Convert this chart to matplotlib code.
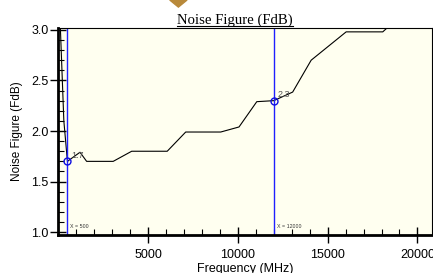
import matplotlib
matplotlib.use("Agg")
import matplotlib.pyplot as plt
from matplotlib.ticker import MultipleLocator

# data
freq = [100, 300, 500, 1200, 1570, 3050, 4080, 6060, 7090, 9040,
        10060, 11050, 12000, 13050, 14080, 16030, 18070, 18500]
nf = [3.05, 2.10, 1.70, 1.79, 1.70, 1.70, 1.80, 1.80, 1.99, 1.99,
      2.04, 2.29, 2.30, 2.385, 2.70, 2.98, 2.98, 3.05]
markers_x = [500, 12000]
markers_y = [1.7, 2.3]
marker_labels = ["1.7", "2.3"]
cursor_labels = ["X = 500", "X = 12000"]

fig = plt.figure(figsize=(4.33, 2.73), dpi=100)
ax = fig.add_axes([0.135, 0.141, 0.863, 0.756])
ax.set_facecolor("#fffff0")

ax.plot(freq, nf, color="black", linewidth=0.8)

for xm, ym, lab, clab in zip(markers_x, markers_y, marker_labels, cursor_labels):
    ax.axvline(xm, color="#2020ff", linewidth=1.0)
    ax.plot(xm, ym, "o", mfc="none", mec="#1010e0", ms=5, mew=1.0)
    ax.annotate(lab, (xm, ym), xytext=(2.5, 2.5), textcoords="offset points",
                fontsize=6.5, color="#555555", family="Liberation Sans")
    ax.annotate(clab, (xm, 1.0), xytext=(2, 3), textcoords="offset points",
                fontsize=3.8, color="#333333", family="Liberation Sans")

ax.set_xlim(0, 20820)
ax.set_ylim(0.977, 3.017)
ax.xaxis.set_minor_locator(MultipleLocator(1000))
ax.yaxis.set_minor_locator(MultipleLocator(0.1))
ax.set_xticks([5000, 10000, 15000, 20000])
ax.set_yticks([1.0, 1.5, 2.0, 2.5, 3.0])
ax.set_yticklabels(["1.0", "1.5", "2.0", "2.5", "3.0"])
ax.tick_params(which="major", direction="inout", length=11, width=1.0,
               labelsize=9)
ax.tick_params(axis="x", which="major", pad=5)
ax.tick_params(axis="y", which="major", pad=1.5)
ax.tick_params(which="minor", direction="in", length=4, width=0.8)
for lab in ax.get_xticklabels() + ax.get_yticklabels():
    lab.set_family("Liberation Sans")

ax.spines["left"].set_linewidth(2.0)
ax.spines["bottom"].set_linewidth(2.0)
ax.spines["top"].set_linewidth(0.8)
ax.spines["right"].set_linewidth(0.8)

ax.set_xlabel("Frequency (MHz)", fontsize=9, family="Liberation Sans")
ax.set_ylabel("Noise Figure (FdB)", fontsize=8.5, family="Liberation Sans")
ax.xaxis.set_label_coords(0.5, -0.138)
ax.yaxis.set_label_coords(-0.095, 0.5)

fig.text(0.543, 0.913, "Noise Figure (FdB)", ha="center", va="baseline",
         fontsize=10.6, family="Liberation Serif")
fig.add_artist(plt.Line2D([0.409, 0.677], [0.905, 0.905], color="black", linewidth=0.8))

# small logo shape at the top
fig.add_artist(plt.Polygon([[0.392, 1.0], [0.432, 1.0], [0.412, 0.974]],
                           closed=True, color="#b8893a"))

fig.savefig("out.png", dpi=100)
